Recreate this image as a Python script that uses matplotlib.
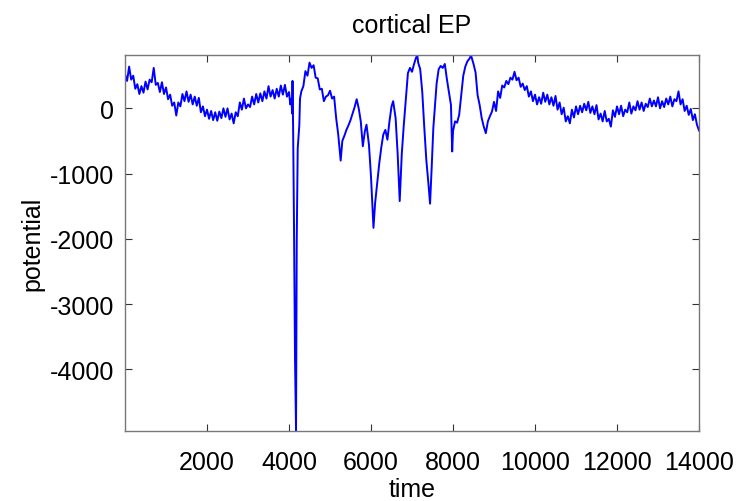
"""cortical EP trace (MATLAB-style line plot)."""

import numpy as np
import matplotlib
matplotlib.use("Agg")
import matplotlib.pyplot as plt

# baseline before stimulus (0..4000), every 50 units
time_pre = [
    0, 50, 100, 150, 200, 250, 300, 350, 400, 450, 500, 550, 600, 650, 700, 750,
    800, 850, 900, 950, 1000, 1050, 1100, 1150, 1200, 1250, 1300, 1350, 1400, 1450,
    1500, 1550, 1600, 1650, 1700, 1750, 1800, 1850, 1900, 1950, 2000, 2050, 2100,
    2150, 2200, 2250, 2300, 2350, 2400, 2450, 2500, 2550, 2600, 2650, 2700, 2750,
    2800, 2850, 2900, 2950, 3000, 3050, 3100, 3150, 3200, 3250, 3300, 3350, 3400,
    3450, 3500, 3550, 3600, 3650, 3700, 3750, 3800, 3850, 3900, 3950, 4000, 4030,
]
pot_pre = [
    520, 420, 640, 440, 500, 300, 370, 220, 340, 240, 410, 290, 440, 400, 620, 360,
    390, 250, 400, 220, 320, 140, 210, 40, 90, -110, 90, 30, 220, 110,
    260, 100, 210, 60, 180, 40, 160, -60, 30, -120, -20, -160, -40,
    -180, -60, -190, -50, -150, 0, -130, 0, -170, -80, -230, -60, -120,
    90, -20, 150, 0, 60, 20, 180, 60, 220, 90, 230, 110, 260,
    150, 340, 180, 280, 150, 300, 180, 350, 210, 360, 180, 250, 60,
]

# evoked response (stimulus artefact + components)
time_ep = [
    4060, 4075, 4085, 4100, 4122, 4146, 4171, 4188, 4212, 4251, 4268,
    4300, 4350, 4400, 4450, 4500, 4550, 4600, 4650, 4700, 4750, 4800, 4850, 4900,
    4950, 5000, 5050, 5100, 5150, 5200, 5260, 5300, 5350, 5400, 5450, 5500, 5550,
    5600, 5650, 5700, 5750, 5800, 5850, 5890, 5950, 6000, 6040, 6060, 6100, 6150,
    6200, 6250, 6300, 6350, 6400, 6450, 6500, 6540, 6600, 6650, 6700, 6750, 6800,
    6850, 6900, 6950, 7000, 7050, 7100, 7130, 7150, 7200, 7250, 7300, 7350, 7400,
    7440, 7480, 7520, 7560, 7600, 7650, 7700, 7750, 7800, 7850, 7900, 7950, 7980,
    8000, 8050, 8100, 8150, 8200, 8250, 8300, 8350, 8400, 8440, 8500, 8550, 8600,
    8650, 8700, 8750, 8800, 8850, 8900, 8950, 9000, 9050, 9100, 9150, 9200, 9250,
    9300, 9350, 9400, 9450, 9500, 9550, 9600, 9650, 9700, 9750,
]
pot_ep = [
    150, -80, 420, -300, -1840, -3830, -4935, -2040, -613, -260, 150,
    260, 340, 570, 500, 700, 620, 660, 470, 460, 290, 300, 110, 180,
    200, 270, 150, 180, -150, -400, -800, -500, -420, -330, -260, -180, -80,
    20, 140, 0, -200, -580, -350, -250, -560, -1050, -1550, -1830, -1450, -1150,
    -850, -600, -400, -330, -480, -200, 30, 110, -150, -700, -1420, -700, -250,
    150, 540, 620, 560, 680, 780, 810, 700, 600, 250, -300, -800, -1150,
    -1460, -900, -300, 50, 380, 600, 650, 620, 680, 450, 250, 50, -660,
    -350, -200, -220, -100, 200, 500, 640, 720, 760, 810, 680, 550, 200,
    50, -150, -280, -380, -200, -120, -50, 100, -40, 260, 160, 350, 320,
    420, 370, 470, 440, 560, 430, 470, 330, 380, 280,
]

# baseline after the response (9800..14000)
time_post = [
    9800, 9850, 9900, 9950, 10000, 10050, 10100, 10150, 10200, 10250, 10300, 10350,
    10400, 10450, 10500, 10550, 10600, 10650, 10700, 10750, 10800, 10850, 10900,
    10950, 11000, 11050, 11100, 11150, 11200, 11250, 11300, 11350, 11400, 11450,
    11500, 11550, 11600, 11650, 11700, 11750, 11800, 11850, 11900, 11950, 12000,
    12050, 12100, 12150, 12200, 12250, 12300, 12350, 12400, 12450, 12500, 12550,
    12600, 12650, 12700, 12750, 12800, 12850, 12900, 12950, 13000, 13050, 13100,
    13150, 13200, 13250, 13300, 13350, 13400, 13450, 13500, 13550, 13600, 13650,
    13700, 13750, 13800, 13850, 13900, 13950, 14000,
]
pot_post = [
    340, 180, 260, 110, 210, 60, 170, 70, 240, 100, 210, 60,
    170, 40, 190, -20, 90, -90, 10, -200, -120, -230, -20,
    -140, 30, -90, 40, -60, 70, -30, 100, -70, 30, -90,
    50, -170, -80, -200, -40, -200, -160, -280, -30, -130, 30,
    -90, 40, -120, -20, -60, 90, -80, 30, -30, 110, -20,
    90, -40, 70, 20, 150, 30, 120, 30, 170, 0, 110,
    20, 150, 60, 180, 30, 140, 110, 260, 60, 140, -40,
    40, -100, -10, -180, -90, -250, -340,
]

x_ticks = [2000, 4000, 6000, 8000, 10000, 12000, 14000]
y_ticks = [-4000, -3000, -2000, -1000, 0]

time = np.array(time_pre + time_ep + time_post)
potential = np.array(pot_pre + pot_ep + pot_post)

plt.rcParams["font.family"] = ["Liberation Sans", "DejaVu Sans"]
plt.rcParams["axes.unicode_minus"] = False

fig = plt.figure(figsize=(7.46, 5.02), dpi=100)
ax = fig.add_axes([0.1676, 0.1404, 0.7694, 0.7471])
ax.plot(time, potential, color="#0000ff", lw=1.4)

ax.set_xlim(0, 14000)
ax.set_ylim(-4935, 810)
ax.set_xticks(x_ticks)
ax.set_yticks(y_ticks)
ax.tick_params(direction="in", length=5, width=0.8, labelsize=18,
               top=True, right=True, color="#333333")
ax.tick_params(axis="x", pad=14)
ax.tick_params(axis="y", pad=8)
for sp in ax.spines.values():
    sp.set_color("#777777")
    sp.set_linewidth(1.0)

ax.set_title("cortical EP", fontsize=18, pad=17)
ax.set_xlabel("time", fontsize=18, labelpad=2)
ax.set_ylabel("potential", fontsize=18, labelpad=4)

fig.savefig("out.png", dpi=100)
